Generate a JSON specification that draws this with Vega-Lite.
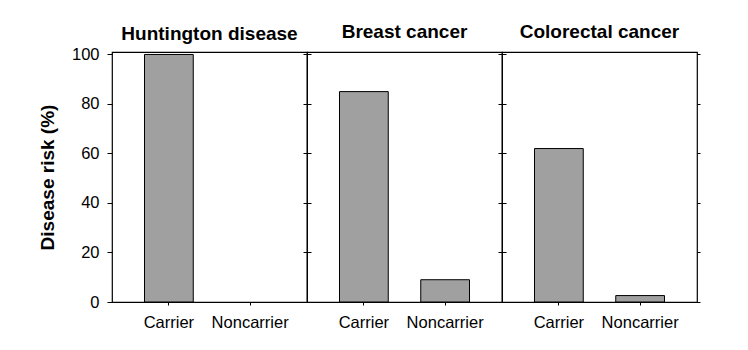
{
  "$schema": "https://vega.github.io/schema/vega-lite/v6.json",
  "autosize": {"type": "pad"},
  "padding": {"left": 37, "top": 22, "right": 5, "bottom": 5},
  "background": "white",
  "bounds": "flush",
  "spacing": 0,
  "data": {"values": [
    {"disease": "Huntington disease", "status": "Carrier", "risk": 100},
    {"disease": "Huntington disease", "status": "Noncarrier", "risk": 0},
    {"disease": "Breast cancer", "status": "Carrier", "risk": 85},
    {"disease": "Breast cancer", "status": "Noncarrier", "risk": 9},
    {"disease": "Colorectal cancer", "status": "Carrier", "risk": 62},
    {"disease": "Colorectal cancer", "status": "Noncarrier", "risk": 2.6}
  ]},
  "config": {
    "font": "Liberation Sans",
    "view": {"stroke": "black", "strokeWidth": 1.2},
    "axis": {"domain": false, "grid": false, "tickColor": "black", "labelColor": "black", "labelFont": "Liberation Sans", "labelFontSize": 16.5},
    "title": {"fontSize": 19, "fontWeight": "bold", "font": "Liberation Sans", "color": "black", "anchor": "middle", "offset": 10, "baseline": "alphabetic"}
  },
  "hconcat": [
    {
      "title": {"text": "Huntington disease", "offset": 2},
      "width": 195, "height": 250,
      "transform": [{"filter": "datum.disease === 'Huntington disease'"}],
      "encoding": {
        "x": {"field": "status", "type": "nominal", "sort": ["Carrier", "Noncarrier"],
              "scale": {"domain": ["Carrier", "Noncarrier"], "paddingInner": 0.4, "paddingOuter": 0.4},
              "axis": {"title": null, "labelAngle": 0, "tickSize": 3, "labelPadding": 9}}
      },
      "layer": [
        {"transform": [{"filter": "datum.risk > 0"}],
         "mark": {"type": "bar", "fill": "#a0a0a0", "stroke": "black", "strokeWidth": 1},
         "encoding": {"y": {"field": "risk", "type": "quantitative", "scale": {"domain": [0, 101], "nice": false},
           "axis": {"orient": "left", "values": [0, 20, 40, 60, 80, 100], "tickSize": 5, "labelPadding": 8,
                    "title": "Disease risk (%)", "titleFontSize": 19, "titleFontWeight": "bold", "titleColor": "black", "titlePadding": 14}}}},
        {"mark": {"type": "bar", "opacity": 0},
         "encoding": {"y": {"field": "risk", "type": "quantitative", "scale": {"domain": [0, 101], "nice": false},
           "axis": {"orient": "right", "values": [0, 20, 40, 60, 80, 100], "tickSize": 4, "labels": false, "title": null}}}}
      ],
      "resolve": {"axis": {"y": "independent"}}
    },
    {
      "title": "Breast cancer",
      "width": 195, "height": 250,
      "transform": [{"filter": "datum.disease === 'Breast cancer'"}],
      "encoding": {
        "x": {"field": "status", "type": "nominal", "sort": ["Carrier", "Noncarrier"],
              "scale": {"domain": ["Carrier", "Noncarrier"], "paddingInner": 0.4, "paddingOuter": 0.4},
              "axis": {"title": null, "labelAngle": 0, "tickSize": 3, "labelPadding": 9}}
      },
      "layer": [
        {"mark": {"type": "bar", "fill": "#a0a0a0", "stroke": "black", "strokeWidth": 1},
         "encoding": {"y": {"field": "risk", "type": "quantitative", "scale": {"domain": [0, 101], "nice": false},
           "axis": {"orient": "left", "values": [0, 20, 40, 60, 80, 100], "tickSize": 4, "labels": false, "title": null}}}},
        {"mark": {"type": "bar", "opacity": 0},
         "encoding": {"y": {"field": "risk", "type": "quantitative", "scale": {"domain": [0, 101], "nice": false},
           "axis": {"orient": "right", "values": [0, 20, 40, 60, 80, 100], "tickSize": 4, "labels": false, "title": null}}}}
      ],
      "resolve": {"axis": {"y": "independent"}}
    },
    {
      "title": "Colorectal cancer",
      "width": 195, "height": 250,
      "transform": [{"filter": "datum.disease === 'Colorectal cancer'"}],
      "encoding": {
        "x": {"field": "status", "type": "nominal", "sort": ["Carrier", "Noncarrier"],
              "scale": {"domain": ["Carrier", "Noncarrier"], "paddingInner": 0.4, "paddingOuter": 0.4},
              "axis": {"title": null, "labelAngle": 0, "tickSize": 3, "labelPadding": 9}}
      },
      "layer": [
        {"mark": {"type": "bar", "fill": "#a0a0a0", "stroke": "black", "strokeWidth": 1},
         "encoding": {"y": {"field": "risk", "type": "quantitative", "scale": {"domain": [0, 101], "nice": false},
           "axis": {"orient": "left", "values": [0, 20, 40, 60, 80, 100], "tickSize": 4, "labels": false, "title": null}}}},
        {"mark": {"type": "bar", "opacity": 0},
         "encoding": {"y": {"field": "risk", "type": "quantitative", "scale": {"domain": [0, 101], "nice": false},
           "axis": {"orient": "right", "values": [0, 20, 40, 60, 80, 100], "tickSize": 3, "labels": false, "title": null}}}}
      ],
      "resolve": {"axis": {"y": "independent"}}
    }
  ]
}
